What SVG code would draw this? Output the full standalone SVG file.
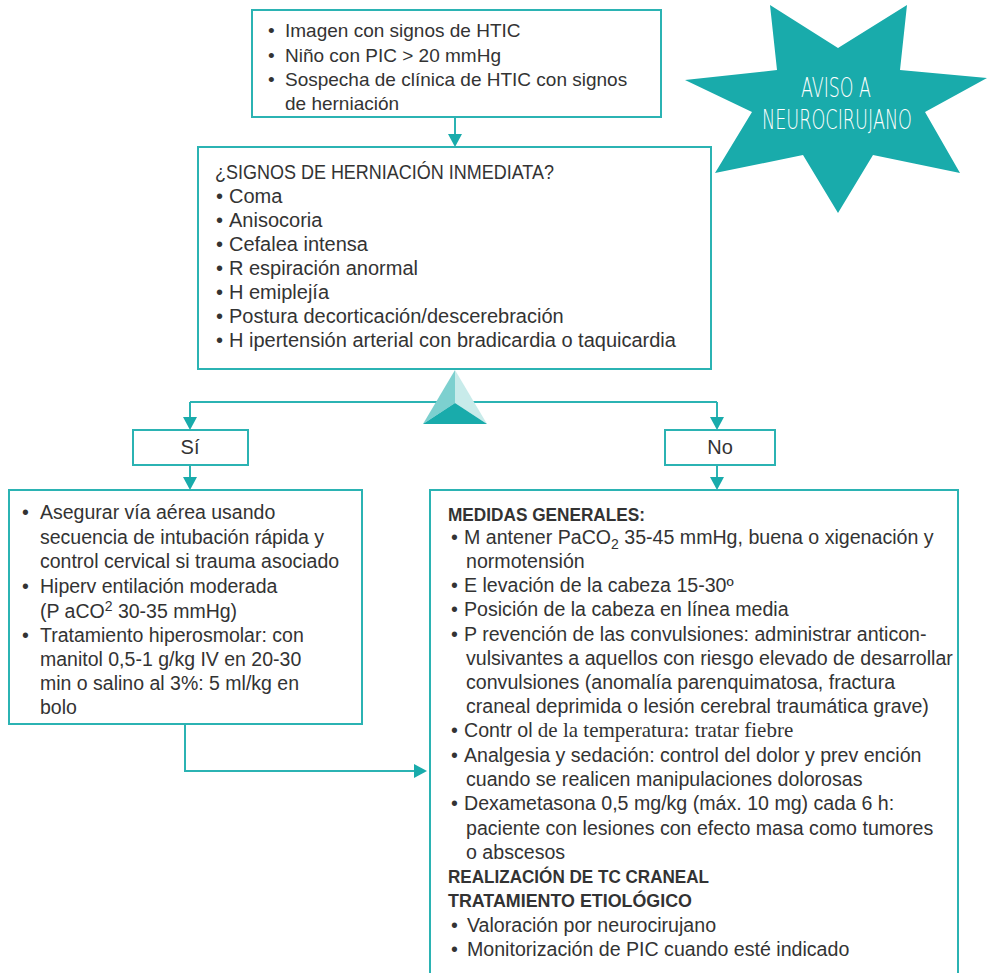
<svg xmlns="http://www.w3.org/2000/svg" width="988" height="973" viewBox="0 0 988 973">
<defs>
<style>
.box{fill:#fff;stroke:#2bb3b3;stroke-width:2}
.ln{fill:none;stroke:#2bb3b3;stroke-width:2}
.ah{fill:#19abab}
text{font-family:"Liberation Sans",Arial,sans-serif;font-size:19px;fill:#333}
.m{font-size:20px}
.l{font-size:19.5px}
.r{font-size:19.6px}
.b{font-weight:bold;font-size:19px}
.st{font-family:"DejaVu Sans","Liberation Sans",sans-serif;font-size:27px;fill:#fff;font-weight:200}
.serif{font-family:"Liberation Serif","Times New Roman",serif;font-size:21px}
</style>
</defs>
<rect width="988" height="973" fill="#fff"/>
<g id="connectors">
<path class="ln" d="M455 117V136"/>
<polygon class="ah" points="448,134 462,134 455,147"/>
<path class="ln" d="M190 402H717"/>
<path class="ln" d="M190 402V419"/>
<polygon class="ah" points="183,417 197,417 190,430"/>
<path class="ln" d="M717 402V419"/>
<polygon class="ah" points="710,417 724,417 717,430"/>
<path class="ln" d="M190 465V479"/>
<polygon class="ah" points="183,477 197,477 190,490"/>
<path class="ln" d="M717 465V479"/>
<polygon class="ah" points="710,477 724,477 717,490"/>
<path class="ln" d="M185 724V771H416"/>
<polygon class="ah" points="414,764 414,778 427,771"/>
</g>
<g id="star">
<polygon fill="#19abab" points="770,5 838,48 907,5 900,70 987,78 925,112 960,173 873,155 838,213 803,155 715,173 752,112 685,80 777,70"/>
<text class="st" x="836" y="97" text-anchor="middle" textLength="70" lengthAdjust="spacingAndGlyphs">AVISO A</text>
<text class="st" x="837" y="129" text-anchor="middle" textLength="150" lengthAdjust="spacingAndGlyphs">NEUROCIRUJANO</text>
</g>
<g id="top">
<rect class="box" x="252" y="10" width="409" height="107"/>
<text x="268" y="37">•</text><text x="285" y="37">Imagen con signos de HTIC</text>
<text x="268" y="62">•</text><text x="285" y="62">Niño con PIC &gt; 20 mmHg</text>
<text x="268" y="86">•</text><text x="285" y="86">Sospecha de clínica de HTIC con signos</text>
<text x="285" y="110">de herniación</text>
</g>
<g id="signos">
<rect class="box" x="198" y="147" width="513" height="222"/>
<text class="m" x="215" y="179" textLength="339" lengthAdjust="spacingAndGlyphs">¿SIGNOS DE HERNIACIÓN INMEDIATA?</text>
<text class="m" x="216" y="203">•</text><text class="m" x="229" y="203">Coma</text>
<text class="m" x="216" y="227">•</text><text class="m" x="229" y="227">Anisocoria</text>
<text class="m" x="216" y="251">•</text><text class="m" x="229" y="251">Cefalea intensa</text>
<text class="m" x="216" y="275">•</text><text class="m" x="229" y="275">R espiración anormal</text>
<text class="m" x="216" y="299">•</text><text class="m" x="229" y="299">H emiplejía</text>
<text class="m" x="216" y="323">•</text><text class="m" x="229" y="323">Postura decorticación/descerebración</text>
<text class="m" x="216" y="347">•</text><text class="m" x="229" y="347">H ipertensión arterial con bradicardia o taquicardia</text>
</g>
<g id="decision">
<polygon fill="#7dd0cf" points="455,370 423,424 455,403"/>
<polygon fill="#c8ebea" points="455,370 455,403 487,424"/>
<polygon fill="#19abab" points="423,424 455,403 487,424"/>
</g>
<g id="si">
<rect class="box" x="133" y="430" width="115" height="35"/>
<text class="m" x="190" y="454" text-anchor="middle">Sí</text>
</g>
<g id="no">
<rect class="box" x="665" y="430" width="110" height="35"/>
<text class="m" x="720" y="454" text-anchor="middle">No</text>
</g>
<g id="left">
<rect class="box" x="9" y="490" width="353" height="234"/>
<text class="l" x="22" y="519">•</text><text class="l" x="40" y="519">Asegurar vía aérea usando</text>
<text class="l" x="40" y="544">secuencia de intubación rápida y</text>
<text class="l" x="40" y="568">control cervical si trauma asociado</text>
<text class="l" x="22" y="593">•</text><text class="l" x="40" y="593">Hiperv entilación moderada</text>
<text class="l" x="40" y="618">(P aCO<tspan dy="-7" font-size="14">2</tspan><tspan dy="7"> 30-35 mmHg)</tspan></text>
<text class="l" x="22" y="642">•</text><text class="l" x="40" y="642">Tratamiento hiperosmolar: con</text>
<text class="l" x="40" y="666">manitol 0,5-1 g/kg IV en 20-30</text>
<text class="l" x="40" y="690">min o salino al 3%: 5 ml/kg en</text>
<text class="l" x="40" y="714">bolo</text>
</g>
<g id="right">
<path class="box" d="M430 985V490H958V985"/>
<text class="b" x="448" y="521" textLength="197" lengthAdjust="spacingAndGlyphs">MEDIDAS GENERALES:</text>
<text class="r" x="451" y="544">•</text><text class="r" x="464" y="544">M antener PaCO<tspan dy="5" font-size="14">2</tspan><tspan dy="-5">  35-45 mmHg, buena o  xigenación y</tspan></text>
<text class="r" x="466" y="568">normotensión</text>
<text class="r" x="451" y="592">•</text><text class="r" x="464" y="592">E levación de la cabeza 15-30º</text>
<text class="r" x="451" y="616">•</text><text class="r" x="464" y="616">Posición de la cabeza en línea media</text>
<text class="r" x="451" y="641">•</text><text class="r" x="464" y="641">P revención de las convulsiones: administrar anticon-</text>
<text class="r" x="466" y="665">vulsivantes a aquellos con riesgo elevado de desarrollar</text>
<text class="r" x="466" y="689">convulsiones (anomalía parenquimatosa, fractura</text>
<text class="r" x="466" y="713">craneal deprimida o lesión cerebral traumática grave)</text>
<text class="r" x="451" y="737">•</text><text class="r" x="464" y="737">Contr ol<tspan class="serif"> de la temperatura: tratar fiebre</tspan></text>
<text class="r" x="451" y="762">•</text><text class="r" x="464" y="762">Analgesia y sedación: control del dolor y prev  ención</text>
<text class="r" x="466" y="786">cuando se realicen manipulaciones dolorosas</text>
<text class="r" x="451" y="810">•</text><text class="r" x="464" y="810">Dexametasona 0,5 mg/kg (máx. 10 mg) cada 6 h:</text>
<text class="r" x="466" y="835">paciente con lesiones con efecto masa como tumores</text>
<text class="r" x="466" y="859">o abscesos</text>
<text class="b" x="448" y="883" textLength="261" lengthAdjust="spacingAndGlyphs">REALIZACIÓN DE TC CRANEAL</text>
<text class="b" x="448" y="907" textLength="244" lengthAdjust="spacingAndGlyphs">TRATAMIENTO ETIOLÓGICO</text>
<text class="r" x="451" y="932">•</text><text class="r" x="467" y="932">Valoración por neurocirujano</text>
<text class="r" x="451" y="956">•</text><text class="r" x="467" y="956">Monitorización de PIC cuando esté indicado</text>
</g>
</svg>
